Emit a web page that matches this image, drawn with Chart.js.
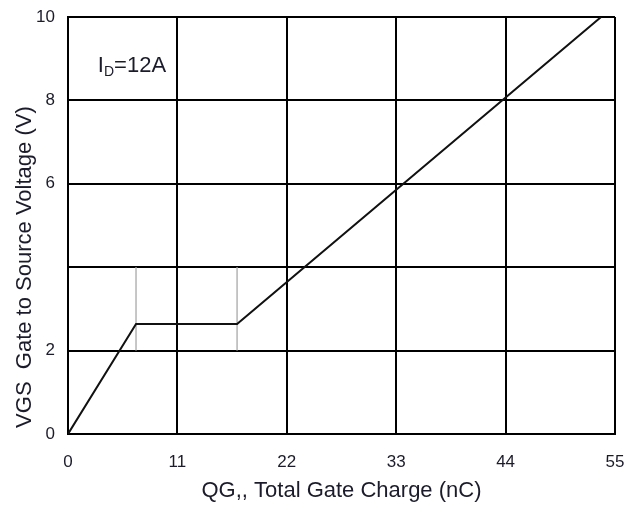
<!DOCTYPE html>
<html>
<head>
<meta charset="utf-8">
<script src="https://cdn.jsdelivr.net/npm/chart.js@4.4.1/dist/chart.umd.min.js"></script>
<style>
  html, body { margin: 0; padding: 0; background: #ffffff; }
  #wrap { width: 644px; height: 508px; }
</style>
</head>
<body>
<div id="wrap"><canvas id="c" width="644" height="508"></canvas></div>
<script>
// ---- data ----
const qgCharge   = [0, 6.84, 17.0, 53.6];      // nC
const vgsVoltage = [0, 2.64, 2.64, 10];        // V
const plateauMarkerStartX = [6.84, 6.84];
const plateauMarkerEndX   = [17.0, 17.0];
const plateauMarkerY      = [2, 4];
const xTickValues = [0, 11, 22, 33, 44, 55];
const yTickLabels = { 0: '0', 2: '2', 4: '', 6: '6', 8: '8', 10: '10' };
const xTitle = 'QG,, Total Gate Charge (nC)';
const yTitle = ' VGS  Gate to Source Voltage (V)';
const conditionLabel = { main: 'I', sub: 'D', rest: '=12A', x: 3.0, y: 8.68 };

const textColor = '#1b1b2b';
const FONT = "'Liberation Sans', Arial, sans-serif";

const toPts = (xs, ys) => xs.map((x, i) => ({ x: x, y: ys[i] }));

const labelPlugin = {
  id: 'conditionLabel',
  afterDatasetsDraw(chart) {
    const ctx = chart.ctx;
    const xs = chart.scales.x, ys = chart.scales.y;
    const px = xs.getPixelForValue(conditionLabel.x);
    const py = ys.getPixelForValue(conditionLabel.y);
    ctx.save();
    ctx.fillStyle = textColor;
    ctx.textBaseline = 'alphabetic';
    ctx.textAlign = 'left';
    ctx.font = '22px ' + FONT;
    ctx.fillText(conditionLabel.main, px, py);
    let w = ctx.measureText(conditionLabel.main).width;
    ctx.font = '14px ' + FONT;
    ctx.fillText(conditionLabel.sub, px + w, py + 4);
    w += ctx.measureText(conditionLabel.sub).width;
    ctx.font = '22px ' + FONT;
    ctx.fillText(conditionLabel.rest, px + w, py);
    ctx.restore();
  }
};

new Chart(document.getElementById('c'), {
  type: 'scatter',
  data: {
    datasets: [
      {
        data: toPts(plateauMarkerStartX, plateauMarkerY),
        showLine: true, borderColor: '#b4b4b4', borderWidth: 1.5,
        pointRadius: 0, order: 2
      },
      {
        data: toPts(plateauMarkerEndX, plateauMarkerY),
        showLine: true, borderColor: '#b4b4b4', borderWidth: 1.5,
        pointRadius: 0, order: 2
      },
      {
        data: toPts(qgCharge, vgsVoltage),
        showLine: true, borderColor: '#111111', borderWidth: 2,
        pointRadius: 0, tension: 0, order: 1
      }
    ]
  },
  options: {
    responsive: false,
    animation: false,
    devicePixelRatio: 1,
    layout: { padding: { left: 0, right: 29, top: 17, bottom: 0 } },
    plugins: { legend: { display: false }, tooltip: { enabled: false } },
    scales: {
      x: {
        type: 'linear', min: 0, max: 55,
        afterBuildTicks: (s) => { s.ticks = xTickValues.map(v => ({ value: v })); },
        afterFit: (s) => { s.height = 74; s.paddingLeft = 0; s.paddingRight = 0; },
        grid: { color: '#000000', lineWidth: 2, drawTicks: false },
        border: { display: true, color: '#000000', width: 2 },
        ticks: { color: textColor, font: { family: FONT, size: 17 }, padding: 18, maxRotation: 0 },
        title: { display: true, text: xTitle, color: textColor,
                 font: { family: FONT, size: 22 }, padding: { top: 2, bottom: 4 } }
      },
      y: {
        type: 'linear', min: 0, max: 10,
        ticks: { stepSize: 2, color: textColor, font: { family: FONT, size: 17 }, padding: 13,
                 callback: (v) => (yTickLabels[v] !== undefined ? yTickLabels[v] : '') },
        afterFit: (s) => { s.width = 68; s.paddingTop = 0; s.paddingBottom = 0; },
        grid: { color: '#000000', lineWidth: 2, drawTicks: false },
        border: { display: true, color: '#000000', width: 2 },
        title: { display: true, text: yTitle, color: textColor, align: 'start',
                 font: { family: FONT, size: 22 }, padding: { top: 12, bottom: 4 } }
      }
    }
  },
  plugins: [labelPlugin]
});
</script>
</body>
</html>
